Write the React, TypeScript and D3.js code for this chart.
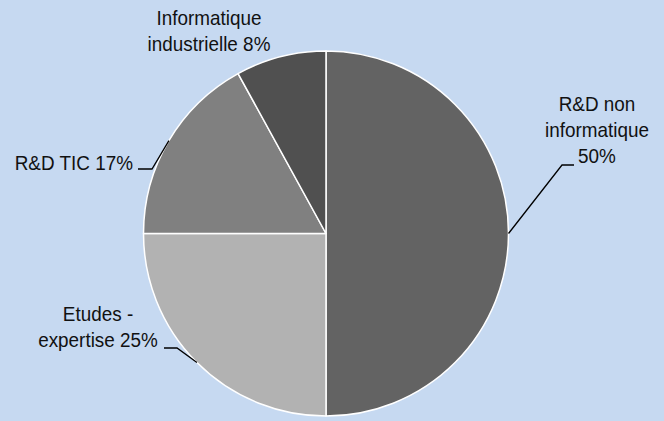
import React from "react";
import * as d3 from "d3";

const categories = [
  "R&D non informatique",
  "Etudes - expertise",
  "R&D TIC",
  "Informatique industrielle",
];
const values = [50, 25, 17, 8];
const labelLines = [
  ["R&D non", "informatique", "50%"],
  ["Etudes -", "expertise 25%"],
  ["R&D TIC 17%"],
  ["Informatique", "industrielle 8%"],
];
const colors = ["#636363", "#b2b2b2", "#808080", "#505050"];

const W = 664;
const H = 421;
const CX = 326;
const CY = 233.5;
const R = 182.5;

// label layout: anchor point (for the text block), alignment, and leader elbow
const labelLayout = [
  { x: 597, y: 111, anchor: "middle", elbow: [562, 165], end: [574, 165] },
  { x: 98, y: 321, anchor: "middle", elbow: [177, 348], end: [164, 348] },
  { x: 133, y: 170, anchor: "end", elbow: [152, 169], end: [138, 169] },
  { x: 209, y: 25, anchor: "middle", elbow: null, end: null },
];

export default function App() {
  const data = categories.map((c, i) => ({ c, v: values[i], i }));
  const pie = d3
    .pie<any>()
    .value((d) => d.v)
    .sort(null)
    .startAngle(0)
    .endAngle(2 * Math.PI);
  const arcs = pie(data);
  const arc = d3.arc<any>().innerRadius(0).outerRadius(R);
  const lineGen = d3.line();
  const scaleX = 0.9;
  const lh = 26;

  return (
    <svg
      width={W}
      height={H}
      style={{ position: "absolute", left: 0, top: 0, display: "block" }}
    >
      <rect width={W} height={H} fill="#c6d9f1" />
      <g transform={`translate(${CX},${CY})`}>
        {arcs.map((a, i) => (
          <path
            key={i}
            d={arc(a) || ""}
            fill={colors[i]}
            stroke="#ffffff"
            strokeWidth={1.5}
            strokeLinejoin="round"
          />
        ))}
      </g>
      {arcs.map((a, i) => {
        const L = labelLayout[i];
        const mid = (a.startAngle + a.endAngle) / 2;
        const sx = CX + R * Math.sin(mid);
        const sy = CY - R * Math.cos(mid);
        return (
          <g key={i}>
            {L.elbow && L.end && (
              <path
                d={
                  lineGen([
                    [sx, sy],
                    L.elbow as [number, number],
                    L.end as [number, number],
                  ]) || ""
                }
                fill="none"
                stroke="#000"
                strokeWidth={1.3}
              />
            )}
            {labelLines[i].map((t, j) => (
              <text
                key={j}
                transform={`translate(${L.x},${L.y + j * lh}) scale(${scaleX},1)`}
                textAnchor={L.anchor}
                fontFamily="'Liberation Sans', Arial, sans-serif"
                fontSize={21}
                fill="#111"
              >
                {t}
              </text>
            ))}
          </g>
        );
      })}
    </svg>
  );
}
